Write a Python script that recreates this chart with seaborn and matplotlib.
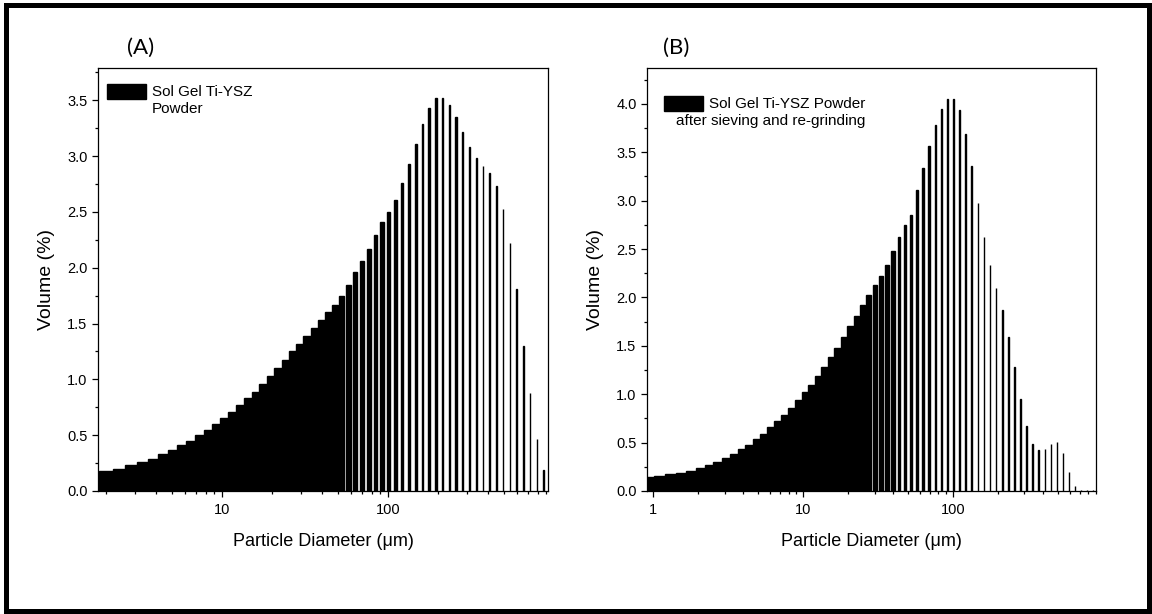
import seaborn as sns
import matplotlib.pyplot as plt
from matplotlib.patches import Rectangle
from matplotlib.ticker import FixedLocator, LogLocator, NullFormatter, MultipleLocator, FormatStrFormatter

# laser diffraction size channels (um)
channel_um = [1.832, 2.011, 2.208, 2.423, 2.660, 2.920, 3.206, 3.519, 3.863, 4.241,
              4.656, 5.111, 5.611, 6.159, 6.761, 7.422, 8.148, 8.944, 9.819, 10.78,
              11.83, 12.99, 14.26, 15.65, 17.18, 18.86, 20.71, 22.73, 24.95, 27.39,
              30.07, 33.01, 36.24, 39.78, 43.67, 47.94, 52.62, 57.77, 63.41, 69.61,
              76.42, 83.89, 92.09, 101.1, 111.0, 121.8, 133.7, 146.8, 161.2, 176.9,
              194.2, 213.2, 234.1, 256.9, 282.1, 309.6, 339.9, 373.1, 409.6, 449.7,
              493.6, 541.9, 594.9, 653.0, 716.9, 786.9, 863.9]

# (A) sol gel Ti-YSZ powder, channels from 3.519 um
vol_a = [0.17, 0.18, 0.20, 0.23, 0.26, 0.29, 0.33, 0.365, 0.41, 0.45,
         0.50, 0.55, 0.60, 0.65, 0.71, 0.77, 0.83, 0.89, 0.96, 1.03,
         1.10, 1.17, 1.25, 1.32, 1.39, 1.46, 1.53, 1.60, 1.67, 1.75,
         1.85, 1.96, 2.06, 2.17, 2.29, 2.41, 2.50, 2.61, 2.76, 2.93,
         3.11, 3.29, 3.43, 3.52, 3.52, 3.46, 3.35, 3.22, 3.08, 2.98,
         2.91, 2.85, 2.73, 2.53, 2.22, 1.81, 1.30, 0.88, 0.47, 0.19]

# (B) after sieving and re-grinding, all channels
vol_b = [0.146, 0.16, 0.174, 0.19, 0.21, 0.236, 0.267, 0.30, 0.34, 0.38,
         0.43, 0.48, 0.54, 0.59, 0.66, 0.72, 0.79, 0.86, 0.94, 1.02,
         1.10, 1.19, 1.28, 1.38, 1.48, 1.59, 1.70, 1.81, 1.92, 2.03,
         2.13, 2.22, 2.33, 2.48, 2.62, 2.75, 2.85, 3.11, 3.335, 3.565,
         3.78, 3.95, 4.05, 4.05, 3.94, 3.69, 3.36, 2.98, 2.62, 2.33,
         2.10, 1.87, 1.59, 1.28, 0.95, 0.67, 0.49, 0.42, 0.43, 0.49,
         0.51, 0.39, 0.20, 0.05, 0.01, 0.01, 0.01]

diam_a = channel_um[7:]
diam_b = channel_um

sns.set_style("ticks", {"axes.edgecolor": "black", "xtick.color": "black",
                        "ytick.color": "black", "text.color": "black",
                        "axes.labelcolor": "black"})
plt.rcParams['font.family'] = ['Liberation Sans', 'DejaVu Sans']

W, H = 1152, 614
fig = plt.figure(figsize=(W / 100, H / 100), dpi=100)


def draw_panel(ax, diam, vol, bar_um, xlim, ylim, xticks, text, box_xy, text_xy, text_ha):
    sns.barplot(x=diam, y=vol, native_scale=True, log_scale=(True, False),
                color="black", saturation=1, errorbar=None, edgecolor="black",
                linewidth=1.0, ax=ax)
    # origin style columns: constant width in um, later columns drawn on top
    for rect, d in zip(ax.patches, diam):
        left = max(d - bar_um / 2, xlim[0] * 0.5)
        rect.set_x(left)
        rect.set_width(d + bar_um / 2 - left)

    ax.set_xlim(*xlim)
    ax.set_ylim(*ylim)
    ax.xaxis.set_major_locator(FixedLocator(xticks))
    ax.xaxis.set_major_formatter(FormatStrFormatter('%g'))
    ax.xaxis.set_minor_locator(LogLocator(base=10, subs=range(2, 10)))
    ax.xaxis.set_minor_formatter(NullFormatter())
    ax.yaxis.set_major_locator(MultipleLocator(0.5))
    ax.yaxis.set_minor_locator(MultipleLocator(0.25))
    ax.yaxis.set_major_formatter(FormatStrFormatter('%.1f'))
    ax.tick_params(which='major', length=4.5, width=0.9, direction='out', labelsize=10.5)
    ax.tick_params(axis='x', which='major', pad=4)
    ax.tick_params(axis='y', which='major', pad=3)
    ax.tick_params(which='minor', length=2.5, width=0.9, direction='out')
    for sp in ax.spines.values():
        sp.set_visible(True)
        sp.set_linewidth(0.9)

    ax.set_xlabel('Particle Diameter (\u03bcm)', fontsize=13, labelpad=12)
    ax.set_ylabel('Volume (%)', fontsize=14, labelpad=9)

    # legend box + label
    ax.add_patch(Rectangle(box_xy, 0.087, 0.035, transform=ax.transAxes,
                           facecolor='black', edgecolor='black', clip_on=False))
    ax.text(text_xy[0], text_xy[1], text, transform=ax.transAxes, ha=text_ha, va='top',
            multialignment=text_ha, fontsize=11, linespacing=1.3)


ax_a = fig.add_axes([98 / W, 123 / H, 450 / W, 423 / H])
ax_b = fig.add_axes([647 / W, 123 / H, 449 / W, 423 / H])

draw_panel(ax_a, diam_a, vol_a, 4.1, (1.79, 920), (0, 3.79), [10, 100],
           'Sol Gel Ti-YSZ\nPowder', (0.020, 0.927), (0.12, 0.960), 'left')
draw_panel(ax_b, diam_b, vol_b, 2.0, (0.91, 900), (0, 4.37), [1, 10, 100],
           'Sol Gel Ti-YSZ Powder\nafter sieving and re-grinding', (0.038, 0.898),
           (0.486, 0.931), 'right')

fig.text(141 / W, 1 - 48 / H, '(A)', ha='center', va='center', fontsize=16, family=['Lato', 'DejaVu Sans'])
fig.text(676 / W, 1 - 48 / H, '(B)', ha='center', va='center', fontsize=16, family=['Lato', 'DejaVu Sans'])

# frame around the whole figure
fig.add_artist(Rectangle((5.5 / W, 3 / H), 1143 / W, 606 / H, transform=fig.transFigure,
                         fill=False, edgecolor='black', linewidth=3.6))

fig.savefig('out.png', dpi=100)
